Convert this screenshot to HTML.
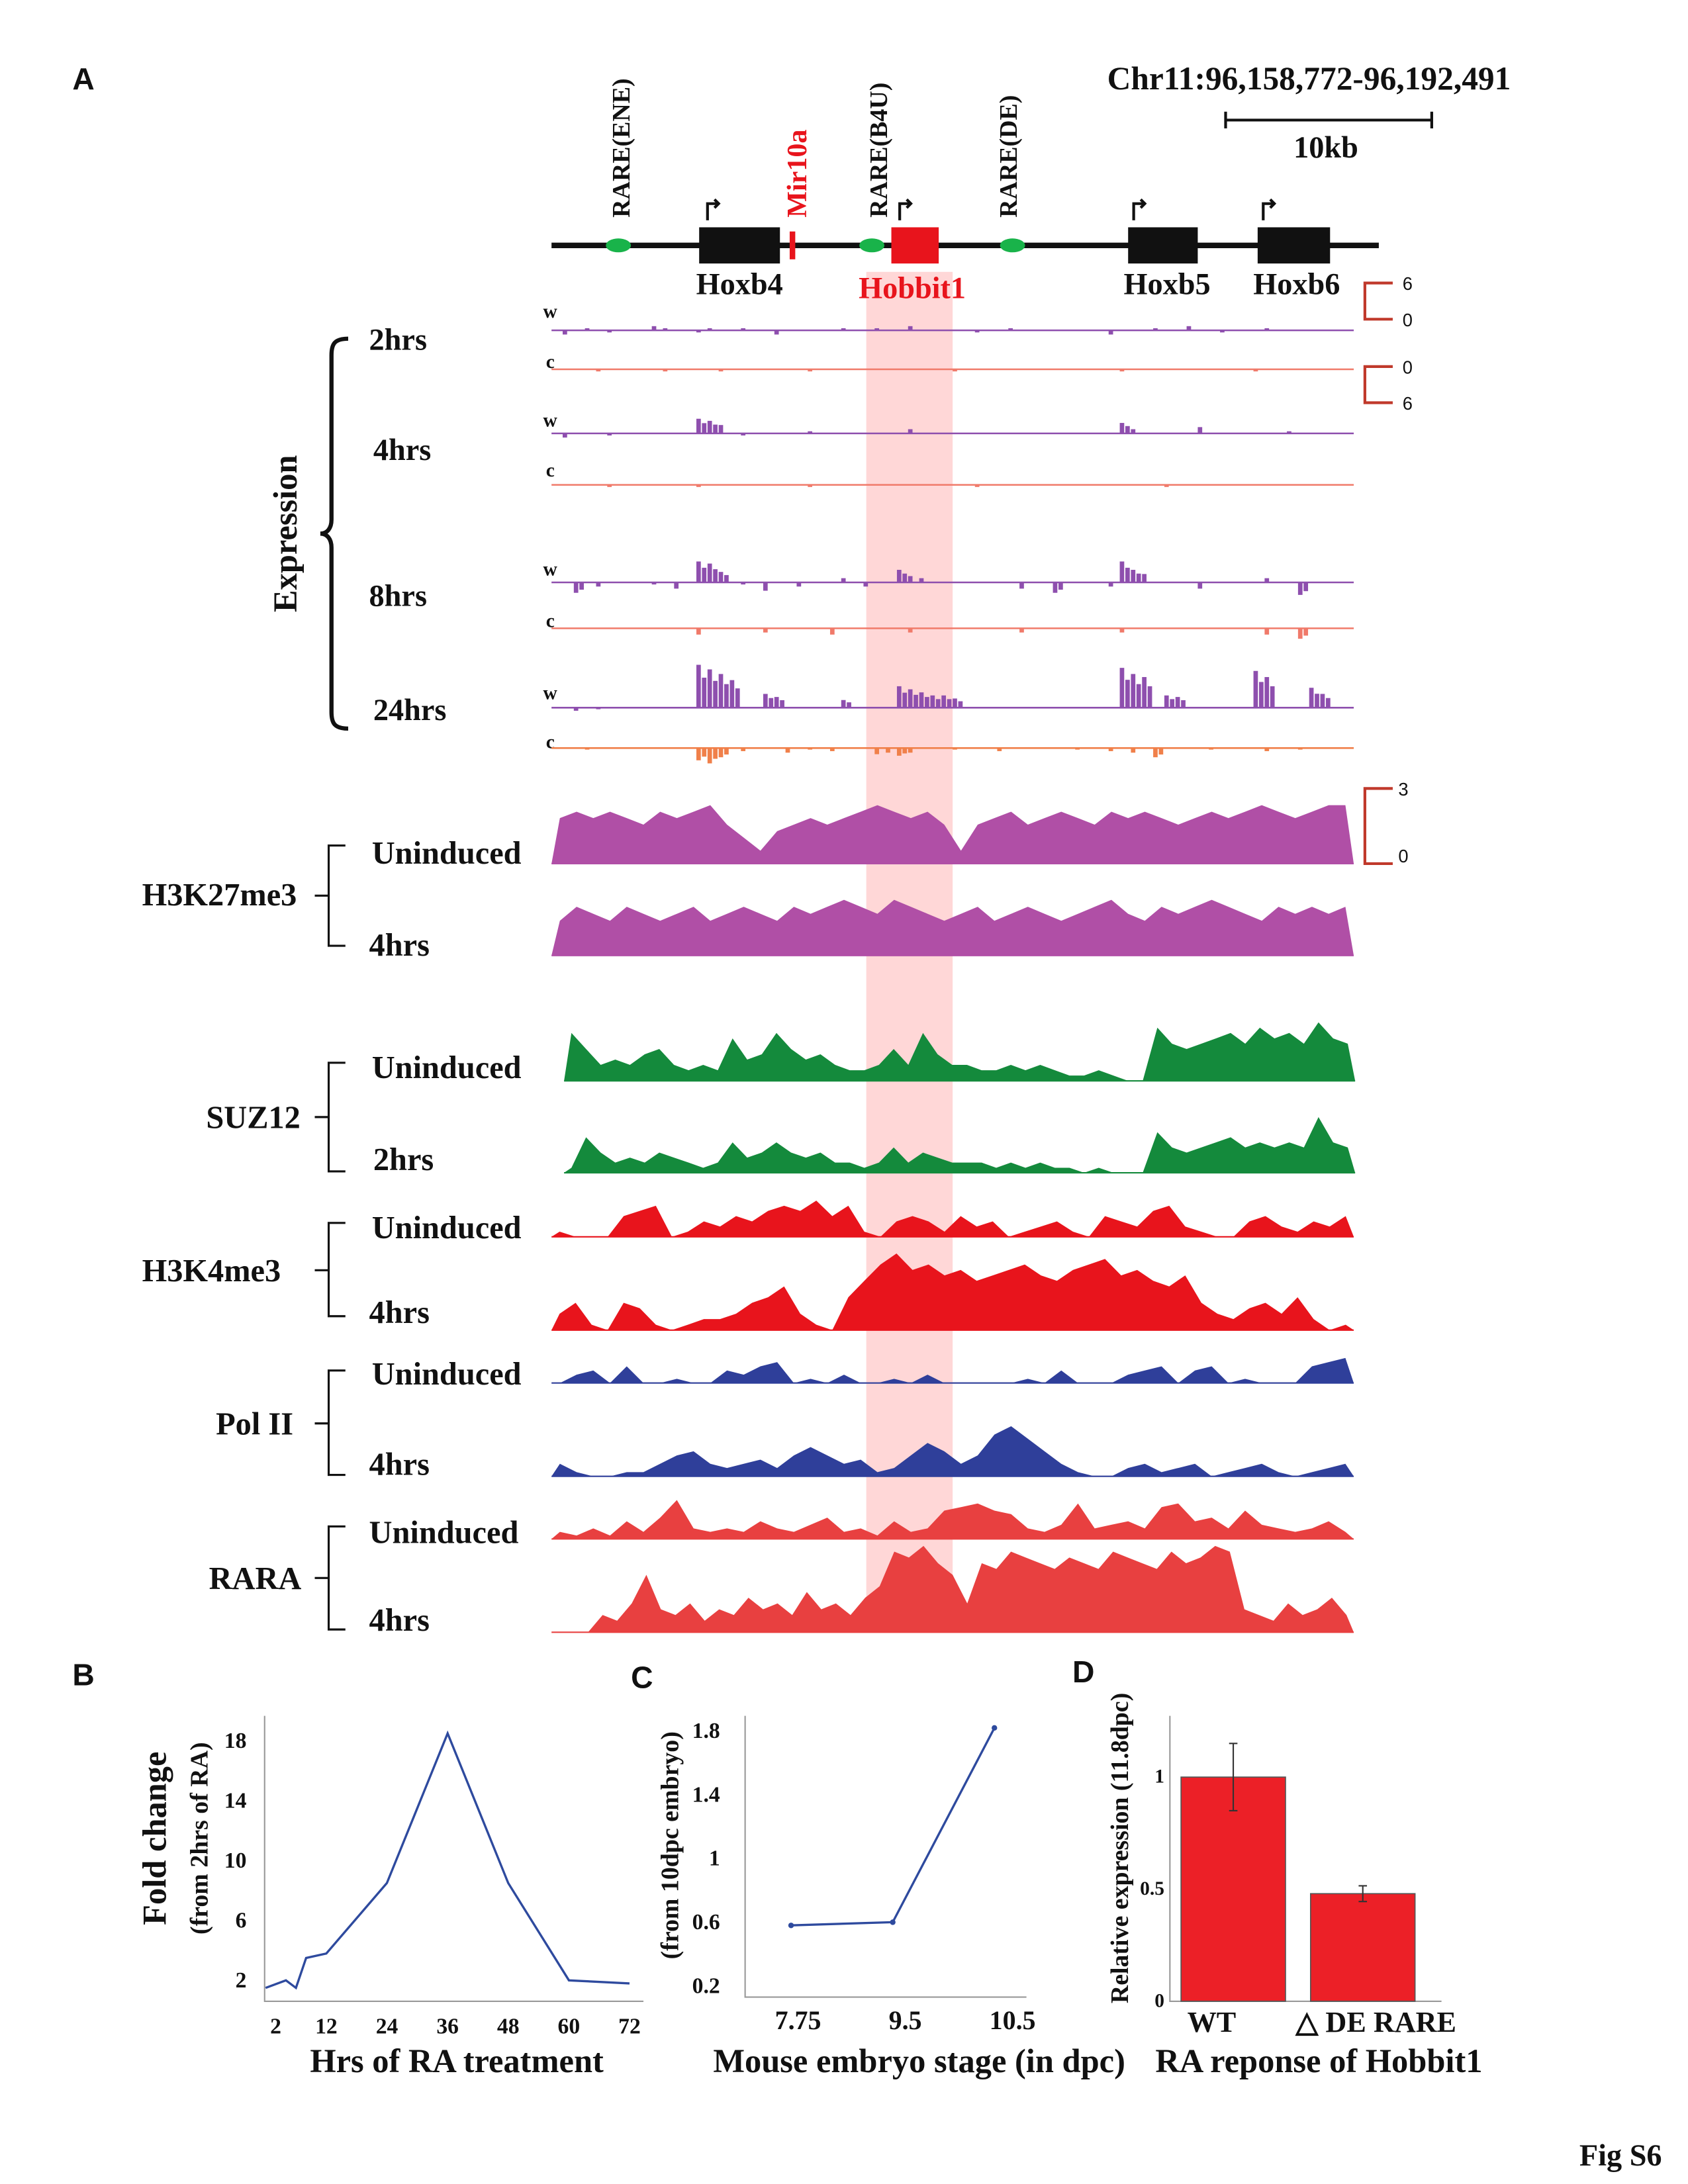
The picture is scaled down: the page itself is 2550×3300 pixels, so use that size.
<!DOCTYPE html>
<html><head><meta charset="utf-8"><style>
html,body{margin:0;padding:0;background:#fff}
svg{display:block}
text{font-family:"Liberation Serif",serif;font-weight:bold;fill:#111}
.pl{font-family:"Liberation Sans",sans-serif;font-size:22px}
.sc{font-family:"Liberation Sans",sans-serif;font-weight:normal;font-size:13px}
</style></head><body>
<svg id="fig" xmlns="http://www.w3.org/2000/svg" width="2550" height="3300" viewBox="0 0 1212 1568">
<g id="static">
<text class="pl" x="52" y="64">A</text>
<text x="795" y="64" font-size="23.5">Chr11:96,158,772-96,192,491</text>
<path d="M880 80v12M880 86h148M1028 80v12" stroke="#111" stroke-width="2" fill="none"/>
<text x="952" y="113" font-size="22" text-anchor="middle">10kb</text>
<rect x="622" y="195" width="62" height="977" fill="#ffc9c9" opacity="0.75"/>
<line x1="396" y1="176" x2="990" y2="176" stroke="#111" stroke-width="4"/>
<rect x="502" y="163" width="58" height="26" fill="#111"/>
<rect x="567" y="166" width="4" height="20" fill="#e8141c"/>
<rect x="640" y="163" width="34" height="26" fill="#e8141c"/>
<rect x="810" y="163" width="50" height="26" fill="#111"/>
<rect x="903" y="163" width="52" height="26" fill="#111"/>
<ellipse cx="444" cy="176" rx="9" ry="5" fill="#19b34a"/>
<ellipse cx="626" cy="176" rx="9" ry="5" fill="#19b34a"/>
<ellipse cx="727" cy="176" rx="9" ry="5" fill="#19b34a"/>
<g stroke="#111" stroke-width="2" fill="none">
<path d="M508 158v-12h8m-3-3l3 3-3 3"/><path d="M646 158v-12h8m-3-3l3 3-3 3"/><path d="M814 158v-12h8m-3-3l3 3-3 3"/><path d="M907 158v-12h8m-3-3l3 3-3 3"/>
</g>
<text transform="translate(452,156) rotate(-90)" font-size="18">RARE(ENE)</text>
<text transform="translate(579,156) rotate(-90)" font-size="20" style="fill:#e8141c">Mir10a</text>
<text transform="translate(637,156) rotate(-90)" font-size="18">RARE(B4U)</text>
<text transform="translate(730,156) rotate(-90)" font-size="18">RARE(DE)</text>
<text x="531" y="211" font-size="22" text-anchor="middle">Hoxb4</text>
<text x="655" y="214" font-size="22" text-anchor="middle" style="fill:#e8141c">Hobbit1</text>
<text x="838" y="211" font-size="22" text-anchor="middle">Hoxb5</text>
<text x="931" y="211" font-size="22" text-anchor="middle">Hoxb6</text>
<g stroke="#c0392b" stroke-width="2" fill="none">
<path d="M1000 203h-20v26h20"/><path d="M1000 263h-20v26h20"/><path d="M1000 566h-20v54h20"/>
</g>
<text class="sc" x="1007" y="208">6</text><text class="sc" x="1007" y="234">0</text>
<text class="sc" x="1007" y="268">0</text><text class="sc" x="1007" y="294">6</text>
<text class="sc" x="1004" y="571">3</text><text class="sc" x="1004" y="619">0</text>
<path d="M250 243c-10 0-12 4-12 12v118c0 6-3 10-8 10 5 0 8 4 8 10v118c0 8 2 12 12 12" stroke="#111" stroke-width="3" fill="none"/>
<text transform="translate(213,383) rotate(-90)" font-size="24" text-anchor="middle">Expression</text>
<g font-size="22">
<text x="265" y="251">2hrs</text><text x="268" y="330">4hrs</text>
<text x="265" y="435">8hrs</text><text x="268" y="517">24hrs</text>
</g>
<g font-size="14">
<text x="390" y="228">w</text><text x="392" y="264">c</text><text x="390" y="306">w</text><text x="392" y="342">c</text>
<text x="390" y="413">w</text><text x="392" y="450">c</text><text x="390" y="502">w</text><text x="392" y="537">c</text>
</g>
<g stroke="#111" stroke-width="1.5" fill="none">
<path d="M248 607h-12v72h12M236 643h-10"/><path d="M248 763h-12v78h12M236 802h-10"/>
<path d="M248 878h-12v67h12M236 912h-10"/><path d="M248 984h-12v75h12M236 1022h-10"/>
<path d="M248 1096h-12v74h12M236 1133h-10"/>
</g>
<g font-size="23">
<text x="102" y="650">H3K27me3</text><text x="267" y="620">Uninduced</text><text x="265" y="686">4hrs</text>
<text x="148" y="810">SUZ12</text><text x="267" y="774">Uninduced</text><text x="268" y="840">2hrs</text>
<text x="102" y="920">H3K4me3</text><text x="267" y="889">Uninduced</text><text x="265" y="950">4hrs</text>
<text x="155" y="1030">Pol II</text><text x="267" y="994">Uninduced</text><text x="265" y="1059">4hrs</text>
<text x="150" y="1141">RARA</text><text x="265" y="1108">Uninduced</text><text x="265" y="1171">4hrs</text>
</g>
<text class="pl" x="52" y="1210">B</text>
<text class="pl" x="453" y="1212">C</text>
<text class="pl" x="770" y="1208">D</text>
<text transform="translate(119,1320) rotate(-90)" font-size="24" text-anchor="middle">Fold change</text>
<text transform="translate(149,1320) rotate(-90)" font-size="18" text-anchor="middle">(from 2hrs of RA)</text>
<text x="328" y="1488" font-size="24" text-anchor="middle">Hrs of RA treatment</text>
<text transform="translate(487,1325) rotate(-90)" font-size="18" text-anchor="middle">(from 10dpc embryo)</text>
<text x="660" y="1488" font-size="24" text-anchor="middle">Mouse embryo stage (in dpc)</text>
<text transform="translate(810,1327) rotate(-90)" font-size="18" text-anchor="middle">Relative expression (11.8dpc)</text>
<text x="947" y="1488" font-size="24" text-anchor="middle">RA reponse of Hobbit1</text>
<text x="1134" y="1555" font-size="22">Fig S6</text>
</g>
<g id="tracks"></g>
<g id="charts"></g>
</svg>
<script>
// Genome track signals (relative heights)
const k27u=[7,8,7,8,7,6,8,7,8,9,6,4,2,5,6,7,6,7,8,9,8,7,8,6,2,6,7,8,6,7,8,7,6,8,7,8,7,6,7,8,7,8,9,8,7,8,9,9];
const k27f=[5,7,6,5,7,6,5,6,7,5,6,7,6,5,7,6,7,8,7,6,8,7,6,5,6,7,5,6,7,6,5,6,7,8,6,5,7,6,7,8,7,6,5,7,6,7,6,7];
const suzu=[9,6,3,4,3,5,6,3,2,3,2,8,4,5,9,6,4,5,3,2,2,3,6,3,9,5,3,3,2,2,3,2,3,2,1,1,2,1,0,0,10,7,6,7,8,9,7,10,8,9,7,11,8,7];
const suz2=[1,7,4,2,3,2,4,3,2,1,2,6,3,4,6,4,3,4,2,2,1,2,5,2,4,3,2,2,2,1,2,1,2,1,1,0,1,0,0,0,8,5,4,5,6,7,5,6,5,6,5,11,6,5];
const k4u=[1,0,0,0,4,5,6,0,1,3,2,4,3,5,6,5,7,4,6,1,0,3,4,3,1,4,2,3,0,1,2,3,1,0,4,3,2,5,6,2,1,0,0,3,4,2,1,3,2,4];
const k4f=[3,5,1,0,5,4,1,0,1,2,2,3,5,6,8,3,1,0,6,9,12,14,11,12,10,11,9,10,11,12,10,9,11,12,13,10,11,9,8,10,5,3,2,4,5,3,6,2,0,1];
const polu=[0,2,3,0,4,0,0,1,0,0,3,2,4,5,0,1,0,2,0,0,1,0,2,0,0,0,0,0,1,0,3,0,0,0,2,3,4,0,3,4,0,1,0,0,0,4,5,6];
const polf=[3,1,0,0,1,1,3,5,6,3,2,3,4,2,5,7,5,3,4,1,2,5,8,6,3,5,10,12,9,6,3,1,0,0,2,3,1,2,3,0,1,2,3,1,0,1,2,3];
const raru=[2,1,3,1,5,2,6,11,3,2,3,2,5,3,2,4,6,2,3,1,5,2,3,8,9,10,8,7,3,2,4,10,3,4,5,3,9,10,5,6,3,8,4,3,2,3,5,2];
const rarf=[0,0,0,3,2,5,10,4,3,5,2,4,3,6,4,5,3,7,4,5,3,6,8,14,13,15,12,10,5,12,11,14,13,12,11,13,12,11,14,13,12,11,14,12,13,15,14,4,3,2,5,3,4,6,3];
// Expression tracks (72 bins, signed)
const w2=[0,-2,0,1,0,-1,0,0,0,2,1,0,0,-1,1,0,0,1,0,0,-2,0,0,0,0,0,1,0,0,1,0,0,2,0,0,0,0,0,-1,0,0,1,0,0,0,0,0,0,0,0,-2,0,0,0,1,0,0,2,0,0,-1,0,0,0,1,0,0,0,0,0,0,0];
const c2=[0,0,0,0,-1,0,0,0,0,0,-1,0,0,0,0,-1,0,0,0,0,0,0,0,-1,0,0,0,0,0,0,0,0,0,0,0,0,-1,0,0,0,0,0,0,0,0,0,0,0,0,0,0,-1,0,0,0,0,0,0,0,0,0,0,0,-1,0,0,0,0,0,0,0,0];
const w4=[0,-2,0,0,0,-1,0,0,0,0,0,0,0,7,6,4,0,-1,0,0,0,0,0,1,0,0,0,0,0,0,0,0,2,0,0,0,0,0,0,0,0,0,0,0,0,0,0,0,0,0,0,5,2,0,0,0,0,0,3,0,0,0,0,0,0,0,1,0,0,0,0,0];
const c4=[0,0,0,0,0,-1,0,0,0,0,0,0,0,-1,0,0,0,0,0,0,0,0,0,-1,0,0,0,0,0,0,0,0,0,0,0,0,0,0,-1,0,0,0,0,0,0,0,0,0,0,0,0,0,0,0,0,-1,0,0,0,0,0,0,0,0,0,0,0,0,0,0,0,0];
const w8=[0,0,-5,0,-2,0,0,0,0,-1,0,-3,0,10,9,5,0,-1,0,-4,0,0,-2,0,0,0,2,0,-2,0,0,6,3,2,0,0,0,0,0,0,0,0,-3,0,0,-5,0,0,0,0,-2,10,6,4,0,0,0,0,-3,0,0,0,0,0,2,0,0,-6,0,0,0,0];
const c8=[0,0,0,0,0,0,0,0,0,0,0,0,0,-3,0,0,0,0,0,-2,0,0,0,0,0,-3,0,0,0,0,0,0,-2,0,0,0,0,0,0,0,0,0,-2,0,0,0,0,0,0,0,0,-2,0,0,0,0,0,0,0,0,0,0,0,0,-3,0,0,-5,0,0,0,0];
const w24=[0,0,-2,0,-1,0,0,0,0,0,0,0,0,28,25,22,18,0,0,9,7,0,0,0,0,0,5,0,0,0,0,14,12,10,8,8,6,0,0,0,0,0,0,0,0,0,0,0,0,0,0,26,22,20,0,8,7,0,0,0,0,0,0,24,20,0,0,0,13,9,0,0];
const c24=[0,0,0,-1,0,0,0,0,0,0,0,0,0,-8,-10,-6,0,-2,0,0,0,-3,0,-1,0,-2,0,0,0,-4,-3,-5,-3,0,0,0,-1,0,0,0,-2,0,0,0,0,0,0,-1,0,0,-2,0,-3,0,-6,0,0,0,0,-1,0,0,0,0,-2,0,0,-1,0,0,0,0];
// Panel B
const bHours=[0,4,6,8,12,24,36,48,60,72];
const bFold=[1.5,2,1.5,3.5,3.8,8.5,18.5,8.5,2,1.8];
const bTicksX=[2,12,24,36,48,60,72];
const bTicksY=[2,6,10,14,18];
// Panel C
const cStages=["7.75","9.5","10.5"];
const cValues=[0.58,0.6,1.82];
const cTicksY=[0.2,0.6,1,1.4,1.8];
// Panel D
const dGroups=["WT","△ DE RARE"];
const dValues=[1,0.48];
const dErrors=[0.15,0.035];
const dTicksY=[0,0.5,1];

const NS="http://www.w3.org/2000/svg";
function mk(tag,attrs,parent){const e=document.createElementNS(NS,tag);for(const k in attrs)e.setAttribute(k,attrs[k]);parent.appendChild(e);return e;}
const T=document.getElementById('tracks');
function area(arr,x0,x1,base,h,color,name){
  const max=Math.max(...arr.map(Math.abs));const bw=(x1-x0)/arr.length;
  let d=`M${x0} ${base}`;
  arr.forEach((v,i)=>{d+=` L${(x0+bw*(i+0.5)).toFixed(1)} ${(base-v/max*h).toFixed(1)}`;});
  d+=` L${x1} ${base} Z`;
  const p=mk('path',{d:d,fill:color},T);
  
  
  mk('line',{x1:x0,x2:x1,y1:base,y2:base,stroke:color,'stroke-width':1},T);
}
function expr(arr,base,color,scale,name){
  const x0=396,x1=972,bw=(x1-x0)/arr.length;
  const g=mk('g',{},T);
  
  
  mk('line',{x1:x0,x2:x1,y1:base,y2:base,stroke:color,'stroke-width':1.2},g);
  arr.forEach((v,i)=>{if(!v)return;const hh=Math.abs(v)*scale;
    mk('rect',{x:(x0+bw*i).toFixed(1),y:v>0?base-hh:base,width:bw*0.4,height:hh,fill:color},g);
    if(Math.abs(v)>4) mk('rect',{x:(x0+bw*i+bw*0.5).toFixed(1),y:v>0?base-hh*0.7:base,width:bw*0.4,height:hh*0.7,fill:color},g);});
}
const P='#8e4fae',S='#f07a6a';
expr(w2,237,P,1.5,'track-2hrs-w');expr(c2,265,S,1.5,'track-2hrs-c');
expr(w4,311,P,1.5,'track-4hrs-w');expr(c4,348,S,1.5,'track-4hrs-c');
expr(w8,418,P,1.5,'track-8hrs-w');expr(c8,451,S,1.5,'track-8hrs-c');
expr(w24,508,P,1.1,'track-24hrs-w');expr(c24,537,'#f0804a',1.1,'track-24hrs-c');
area(k27u,396,972,620,42,'#b04fa6','h3k27me3-uninduced');
area(k27f,396,972,686,40,'#b04fa6','h3k27me3-4hrs');
area(suzu,405,973,776,42,'#148a3c','suz12-uninduced');
area(suz2,405,973,842,40,'#148a3c','suz12-2hrs');
area(k4u,396,972,888,26,'#e8141c','h3k4me3-uninduced');
area(k4f,396,972,955,55,'#e8141c','h3k4me3-4hrs');
area(polu,396,972,993,18,'#2f3f9a','polii-uninduced');
area(polf,396,972,1060,36,'#2f3f9a','polii-4hrs');
area(raru,396,972,1105,28,'#e84040','rara-uninduced');
area(rarf,396,972,1172,62,'#e84040','rara-4hrs');

const C=document.getElementById('charts');
function txt(s,x,y,size,anchor,parent){const t=mk('text',{x:x,y:y,'font-size':size,'text-anchor':anchor},parent);t.textContent=s;return t;}
// Panel B
const bx=v=>198+(v-2)*(452-198)/70, by=v=>1422-(v-2)*10.75;
mk('path',{d:'M190 1232V1437H462',stroke:'#999',fill:'none','stroke-width':1},C);
bTicksX.forEach(v=>{const t=txt(v,bx(v),1460,16,'middle',C);});
bTicksY.forEach(v=>{const t=txt(v,177,by(v)+5,16,'end',C);});
const bl=mk('polyline',{points:bHours.map((h,i)=>`${bx(h).toFixed(1)},${by(bFold[i]).toFixed(1)}`).join(' '),fill:'none',stroke:'#2e4a9e','stroke-width':1.6},C);


// Panel C
const cx=i=>568+i*73, cy=v=>1426-(v-0.2)*114.4;
mk('path',{d:'M535 1232V1434H737',stroke:'#999',fill:'none','stroke-width':1},C);
cStages.forEach((s,i)=>{const t=txt(s,[573,650,727][i],1457,19,'middle',C);});
cTicksY.forEach(v=>{const t=txt(v,517,cy(v)+5,16,'end',C);});
const cl=mk('polyline',{points:cValues.map((v,i)=>`${cx(i)},${cy(v).toFixed(1)}`).join(' '),fill:'none',stroke:'#2e4a9e','stroke-width':1.6},C);


cValues.forEach((v,i)=>{const d=mk('circle',{cx:cx(i),cy:cy(v),r:2,fill:'#2e4a9e'},C);});
// Panel D
const dy=v=>1437-v*161;
mk('path',{d:'M840 1232V1437H1035',stroke:'#999',fill:'none','stroke-width':1},C);
dTicksY.forEach(v=>{const t=txt(v,836,dy(v)+4,14,'end',C);});
const dX=[848,941];
dValues.forEach((v,i)=>{
  const r=mk('rect',{x:dX[i],y:dy(v),width:75,height:v*161,fill:'#ec2027',stroke:'#555','stroke-width':0.8},C);
  
  
  const m=dX[i]+37.5;
  mk('path',{d:`M${m} ${dy(v+dErrors[i])}V${dy(v-dErrors[i])}M${m-3} ${dy(v+dErrors[i])}h6M${m-3} ${dy(v-dErrors[i])}h6`,stroke:'#333','stroke-width':1,fill:'none'},C);
  const t=txt(dGroups[i],[870,988][i],1459,21,'middle',C);
  
  
});
</script>
</body></html>
